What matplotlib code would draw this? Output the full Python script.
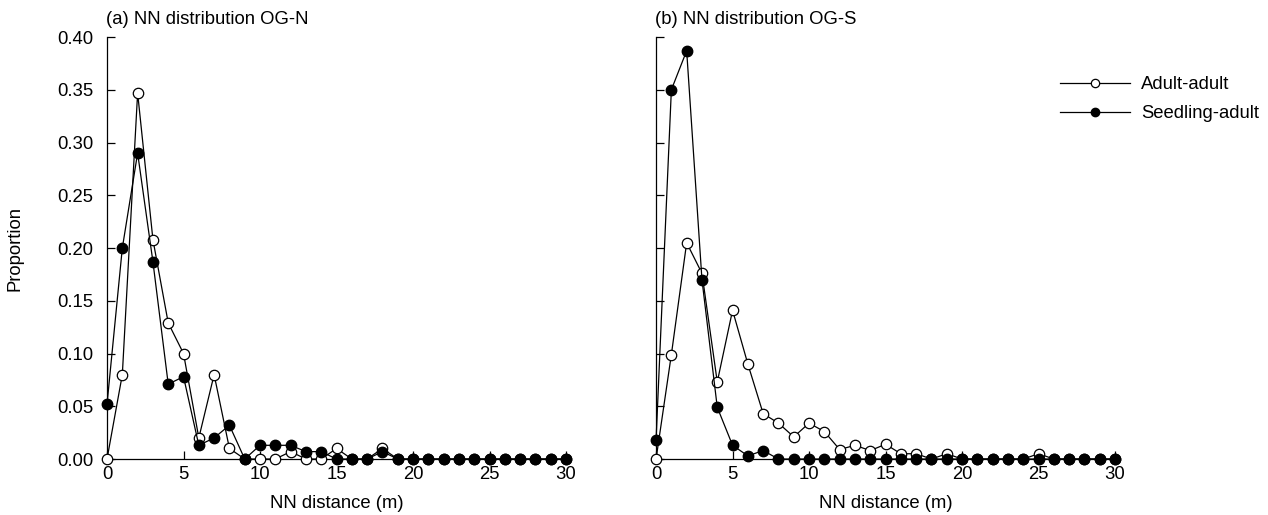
import matplotlib
matplotlib.use("Agg")
import matplotlib.pyplot as plt

plt.rcParams['font.family'] = ['Liberation Sans', 'DejaVu Sans']

dist = list(range(0, 31))

# (a) OG-N
north_adult = [0, 0.08, 0.347, 0.208, 0.129, 0.10, 0.02, 0.08, 0.01, 0,
               0, 0, 0.007, 0, 0, 0.01, 0, 0, 0.01, 0,
               0, 0, 0, 0, 0, 0, 0, 0, 0, 0, 0]
north_seedling = [0.052, 0.20, 0.29, 0.187, 0.071, 0.078, 0.013, 0.02, 0.032, 0,
                  0.013, 0.013, 0.013, 0.007, 0.007, 0, 0, 0, 0.007, 0,
                  0, 0, 0, 0, 0, 0, 0, 0, 0, 0, 0]

# (b) OG-S
south_adult = [0, 0.099, 0.205, 0.176, 0.073, 0.141, 0.09, 0.043, 0.034, 0.021,
               0.034, 0.026, 0.009, 0.013, 0.008, 0.014, 0.005, 0.005, 0, 0.005,
               0, 0, 0, 0, 0, 0.005, 0, 0, 0, 0, 0]
south_seedling = [0.018, 0.35, 0.387, 0.17, 0.049, 0.013, 0.003, 0.008, 0, 0,
                  0, 0, 0, 0, 0, 0, 0, 0, 0, 0,
                  0, 0, 0, 0, 0, 0, 0, 0, 0, 0, 0]

titles = ["(a) NN distribution OG-N", "(b) NN distribution OG-S"]
fs = 13.3

fig = plt.figure(figsize=(12.68, 5.15), dpi=100)
ax1 = fig.add_axes([0.0844, 0.1087, 0.362, 0.8194])
ax2 = fig.add_axes([0.5174, 0.1087, 0.362, 0.8194])

panels = [(ax1, north_adult, north_seedling), (ax2, south_adult, south_seedling)]
for i, (ax, adult, seed) in enumerate(panels):
    ax.plot(dist, adult, color='black', lw=0.9, marker='o', ms=7.5,
            mfc='white', mec='black', mew=0.9, clip_on=False, zorder=3)
    ax.plot(dist, seed, color='black', lw=0.9, marker='o', ms=7.5,
            mfc='black', mec='black', clip_on=False, zorder=4)
    ax.set_xlim(0, 30)
    ax.set_ylim(0, 0.40)
    ax.set_xticks([0, 5, 10, 15, 20, 25, 30])
    ax.set_yticks([0, 0.05, 0.10, 0.15, 0.20, 0.25, 0.30, 0.35, 0.40])
    ax.spines['top'].set_visible(False)
    ax.spines['right'].set_visible(False)
    ax.spines['left'].set_linewidth(0.9)
    ax.spines['bottom'].set_linewidth(0.9)
    ax.tick_params(direction='in', length=6, width=0.9, labelsize=fs)
    ax.tick_params(axis='x', pad=5)
    ax.tick_params(axis='y', pad=10)
    ax.set_xlabel("NN distance (m)", fontsize=fs, labelpad=9)
    ax.text(-0.002, 1.031, titles[i], transform=ax.transAxes,
            fontsize=fs, ha='left', va='baseline')
    if i == 0:
        ax.set_yticklabels(['%.2f' % v for v in ax.get_yticks()])
        ax.set_ylabel("Proportion", fontsize=fs, labelpad=24)
    else:
        ax.set_yticklabels([])

leg_handles = [
    plt.Line2D([], [], color='black', lw=0.9, marker='o', ms=6, mfc='white', mec='black', mew=0.9),
    plt.Line2D([], [], color='black', lw=0.9, marker='o', ms=6, mfc='black', mec='black'),
]
fig.legend(leg_handles, ['Adult-adult', 'Seedling-adult'], loc='upper left',
           bbox_to_anchor=(1060 / 1268, 1 - 76 / 515), frameon=False, fontsize=fs,
           borderpad=0, borderaxespad=0, handlelength=3.8, handletextpad=0.6,
           labelspacing=0.65)

fig.savefig("out.png", dpi=100)
